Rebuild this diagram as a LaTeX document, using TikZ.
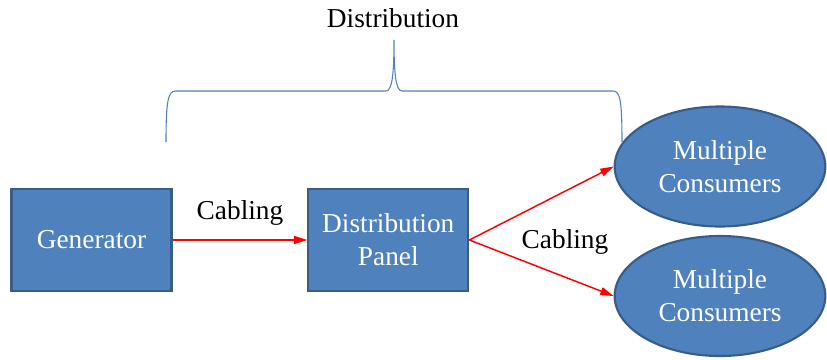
\documentclass[tikz,border=0pt]{standalone}
\usepackage{fontspec}
\setmainfont{Liberation Serif}
\usepackage{tikz}
\usetikzlibrary{shapes.geometric, arrows.meta, positioning}
\definecolor{boxblue}{HTML}{4F81BD}
\definecolor{boxedge}{HTML}{385D8A}

\begin{document}
\begin{tikzpicture}[x=0.75pt, y=-0.75pt,
    block/.style={draw=boxedge, line width=1.6pt, fill=boxblue, text=white,
                  minimum width=120pt, minimum height=76pt, align=center,
                  font=\fontsize{20.5}{24.7}\selectfont},
    consumer/.style={ellipse, draw=boxedge, line width=1.6pt, fill=boxblue,
                  text=white, minimum width=158pt, minimum height=90pt,
                  inner sep=0pt, align=center, font=\fontsize{20.5}{24.7}\selectfont},
    lbl/.style={font=\fontsize{20.5}{24.7}\selectfont},
    arr/.style={-{Triangle[length=10pt,width=6pt]}, red, line width=1.1pt},
    brace/.style={draw=boxblue, line width=0.8pt},
]
    \useasboundingbox (0,0) rectangle (827,360);
    \node[block] (gen) at (91.5,240) {Generator};
    \node[block, right=101pt of gen] (panel) {Distribution\\Panel};
    \node[consumer] (cons1) at (720,166.5) {Multiple\\Consumers};
    \node[consumer] (cons2) at (720,296) {Multiple\\Consumers};
    \draw[arr] (gen) -- (panel);
    \draw[arr] (panel.east) -- (cons1.west);
    \draw[arr] (panel.east) -- (cons2.west);
    \node[lbl] (cab1) at (240,213) {Cabling};
    \node[lbl] (cab2) at (565,242) {Cabling};
    % brace over the distribution part
    \draw[brace] (166,142) .. controls (166,100) and (168,91) .. (176,91) -- (386,91)
        .. controls (392,91) and (394,75) .. (394,40)
        .. controls (394,75) and (396,91) .. (402,91) -- (613,91)
        .. controls (620,91) and (622,100) .. (622,142);
    \node[lbl] (dist) at (393,18) {Distribution};
\end{tikzpicture}
\end{document}
